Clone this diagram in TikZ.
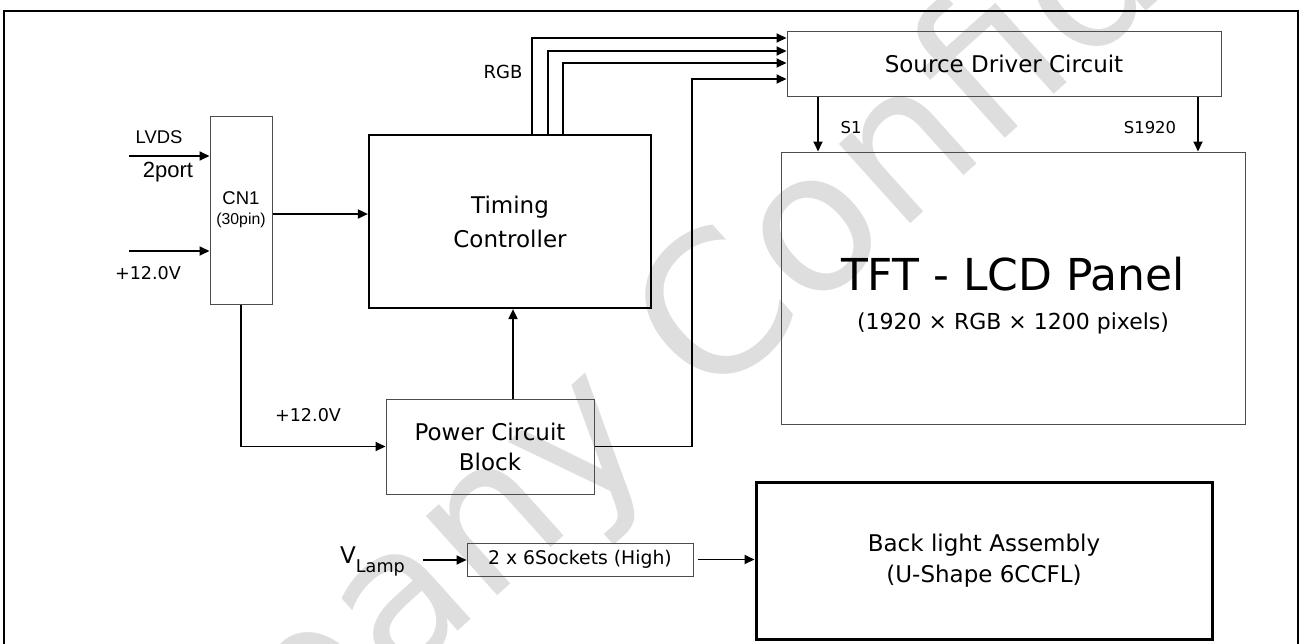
\documentclass[tikz,border=0pt]{standalone}
\usepackage{fontspec}
\setmainfont{DejaVu Sans}
\newfontfamily\connfont{Liberation Sans}
\usetikzlibrary{arrows.meta,positioning}
\newcommand\fsz[2]{\fontsize{#1}{#2}\selectfont}
\tikzset{
  wire/.style={black,line width=1.8pt},
  flow/.style={wire,-{Triangle[length=10pt,width=9pt]}},
  block/.style={draw=black!70,line width=1pt,inner sep=0pt,align=center,font=\fsz{23}{30}},
  heavyblock/.style={block,draw=black,line width=2.2pt},
  lab/.style={inner sep=0pt,font=\fsz{17.6}{20}},
  conn/.style={inner sep=0pt,font=\connfont\fsz{18.4}{20}},
}

\begin{document}
\begin{tikzpicture}[x=1pt,y=-1pt]
  \useasboundingbox (0,0) rectangle (1300,643);
  % watermark
  \node[text=black!13,rotate=42,font=\fsz{195}{195}] (mark) at (740,305) {Company Confidential};
  % frame
  \draw[line width=1.5pt] (4,660) -- (4,11) -- (1298,11) -- (1298,660);

  \node[block,minimum width=62pt,minimum height=188pt,font=\connfont\fsz{18.5}{22}] (cn1) at (241,210)
    {CN1\\[-2pt]{\fsz{15.8}{18}(30pin)}};
  \node[heavyblock,minimum width=282pt,minimum height=173pt,font=\fsz{23}{34}] (tcon) at (510,221.5)
    {Timing\\Controller};
  \node[block,minimum width=434pt,minimum height=65pt] (src) at (1004,63.5) {Source Driver Circuit};
  \node[block,minimum width=464pt,minimum height=272pt] (panel) at (1013,288)
    {{\fsz{44}{50}\rule{0pt}{49pt}TFT - LCD Panel}\\[9pt]{\fsz{22}{26}(1920 × RGB × 1200 pixels)}};
  \node[block,minimum width=208pt,minimum height=95pt] (power) at (490,446.5) {Power Circuit\\Block};
  \node[block,minimum width=226pt,minimum height=33pt,font=\fsz{18.8}{20}] (sockets) at (580,559.5)
    {2 x 6Sockets (High)};
  \node[heavyblock,line width=3pt,minimum width=456pt,minimum height=157pt,font=\fsz{23}{31}] (backlight)
    at (984,560.5) {Back light Assembly\\(U-Shape 6CCFL)};

  % labels
  \node[conn] (lvds) at (159,137) {LVDS};
  \node[conn,font=\connfont\fsz{22}{24}] (twoport) at (168,172) {2port};
  \node[lab] (vin) at (148,273) {+12.0V};
  \node[lab] (vpow) at (308,415) {+12.0V};
  \node[lab,font=\fsz{18}{20}] (rgb) at (503,72) {RGB};
  \node[lab,font=\fsz{16.4}{18}] (sfirst) at (851,128) {S1};
  \node[lab,font=\fsz{16.4}{18}] (slast) at (1150,128) {S1920};
  \node[anchor=base west,inner sep=0pt] (vlamp) at (340,563)
    {\fsz{23}{23}V\raisebox{-9pt}{\fsz{17.6}{18}Lamp}};

  % connectors
  \coordinate (lvdsin) at (129,156);
  \coordinate (v12in) at (129,251);
  \draw[flow] (lvdsin) -- (lvdsin -| cn1.west);
  \draw[flow] (v12in) -- (v12in -| cn1.west);
  \draw[flow] ([yshift=-4pt]cn1.east) -- ([yshift=-4pt]cn1.east -| tcon.west);
  \foreach \i/\x/\y in {1/532/38,2/548/51,3/563/63}{
    \coordinate (rgb\i) at (\x,\y);
    \draw[flow] (tcon.north -| rgb\i) |- (src.west |- rgb\i);
  }
  \coordinate (pbend) at (692,79);
  \draw[flow] (power.east) -| (pbend) -- (src.west |- pbend);
  \draw[flow] (cn1.south) |- (power.west);
  \draw[flow] ([xshift=23pt]power.north) -- ([xshift=23pt]power.north |- tcon.south);
  \coordinate (tapA) at (818,0);
  \coordinate (tapB) at (1198,0);
  \draw[flow] (src.south -| tapA) -- (panel.north -| tapA);
  \draw[flow] (src.south -| tapB) -- (panel.north -| tapB);
  \coordinate (lampout) at (423,560);
  \draw[flow] (lampout) -- (lampout -| sockets.west);
  \draw[flow] ([xshift=4pt]sockets.east) -- (backlight.west |- sockets.east);
\end{tikzpicture}
\end{document}
